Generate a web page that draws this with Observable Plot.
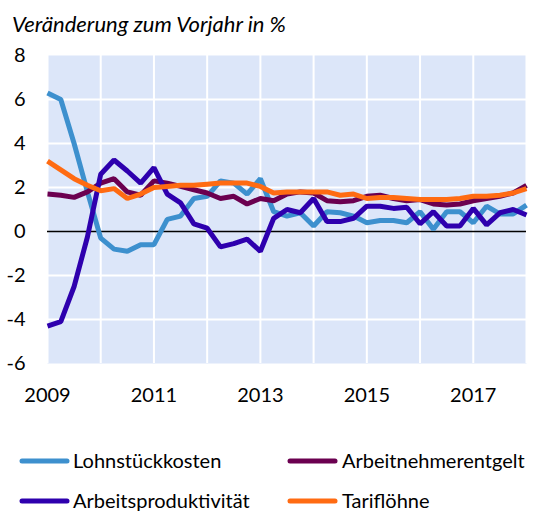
<!DOCTYPE html>
<html><head><meta charset="utf-8">
<script src="https://cdn.jsdelivr.net/npm/d3@7"></script>
<script src="https://cdn.jsdelivr.net/npm/@observablehq/plot@0.6"></script>
<style>
body{margin:0;background:#fff;font-family:Lato,"Open Sans",sans-serif;color:#000;}
#wrap{position:relative;width:557px;height:511px;overflow:hidden;}
#title{position:absolute;left:12px;top:13px;font-size:22px;line-height:22px;font-style:italic;white-space:nowrap;}
#chart{position:absolute;left:0;top:48px;}
.lg{position:absolute;font-size:20px;line-height:20px;white-space:nowrap;}
.sw{position:absolute;}
</style></head><body>
<div id="wrap">
  <div id="title">Veränderung zum Vorjahr in %</div>
  <div id="chart"></div>
  <div id="legend"></div>
</div>
<script>
// Quarterly observations, 2009 Q1 … 2018 Q1
const quarters = d3.range(37).map(i => 2009 + i / 4);

const lohnstueckkosten = [6.3, 6.0, 4.0, 1.8, -0.3, -0.8, -0.9, -0.6, -0.6, 0.55, 0.7, 1.5, 1.6, 2.3, 2.2, 1.7, 2.4, 0.9, 0.7, 0.85, 0.25, 0.9, 0.85, 0.7, 0.4, 0.5, 0.5, 0.4, 0.9, 0.1, 0.9, 0.9, 0.4, 1.15, 0.8, 0.8, 1.2];
const arbeitnehmerentgelt = [1.7, 1.65, 1.55, 1.8, 2.2, 2.4, 1.8, 1.65, 2.3, 2.2, 2.05, 1.9, 1.75, 1.5, 1.6, 1.25, 1.5, 1.4, 1.7, 1.8, 1.75, 1.4, 1.35, 1.4, 1.6, 1.65, 1.5, 1.4, 1.45, 1.25, 1.2, 1.25, 1.4, 1.5, 1.6, 1.75, 2.1];
const arbeitsproduktivitaet = [-4.3, -4.1, -2.5, -0.25, 2.6, 3.25, 2.75, 2.2, 2.9, 1.7, 1.3, 0.35, 0.15, -0.7, -0.55, -0.35, -0.9, 0.6, 1.0, 0.85, 1.5, 0.45, 0.45, 0.6, 1.15, 1.15, 1.05, 1.1, 0.35, 0.9, 0.25, 0.25, 1.05, 0.3, 0.85, 1.0, 0.75];
const tarifloehne = [3.2, 2.8, 2.4, 2.1, 1.85, 1.95, 1.5, 1.7, 2.0, 2.05, 2.1, 2.1, 2.15, 2.2, 2.2, 2.2, 2.05, 1.75, 1.8, 1.8, 1.8, 1.8, 1.65, 1.7, 1.5, 1.55, 1.55, 1.5, 1.45, 1.45, 1.45, 1.5, 1.6, 1.6, 1.65, 1.75, 1.95];

const seriesNames = ["Lohnstückkosten", "Arbeitnehmerentgelt", "Arbeitsproduktivität", "Tariflöhne"];
const seriesColors = ["#3D90CE", "#6B0050", "#2E00AE", "#FF6B12"];
const seriesValues = [lohnstueckkosten, arbeitnehmerentgelt, arbeitsproduktivitaet, tarifloehne];
const drawOrder = [0, 1, 2, 3];

const xTicks = [2009, 2011, 2013, 2015, 2017];
const xGrid = [2009, 2010, 2011, 2012, 2013, 2014, 2015, 2016, 2017, 2018];
const yTicks = [-6, -4, -2, 0, 2, 4, 6, 8];
const yGrid = [-4, -2, 2, 4, 6];

const lineMarks = drawOrder.map(k => Plot.line(
  seriesValues[k].map((v, i) => ({t: quarters[i], v, name: seriesNames[k]})),
  {x: "t", y: "v", stroke: "name", strokeWidth: 5, strokeLinejoin: "miter", strokeLinecap: "butt"}
));

const chart = Plot.plot({
  width: 557, height: 367,
  marginTop: 7, marginLeft: 47, marginRight: 31, marginBottom: 52,
  style: {fontFamily: "Lato, 'Open Sans', sans-serif", fontSize: "20px", color: "#000", background: "transparent", overflow: "visible"},
  x: {domain: [2009, 2018], ticks: xTicks, tickFormat: d => String(d), tickSize: 0, tickPadding: 24, label: null},
  y: {domain: [-6, 8], ticks: yTicks, tickFormat: d => String(d), tickSize: 0, tickPadding: 22, label: null},
  color: {domain: seriesNames, range: seriesColors},
  marks: [
    Plot.frame({fill: "#DCE6F9", stroke: null}),
    Plot.ruleX(xGrid, {stroke: "white", strokeWidth: 2}),
    Plot.ruleY(yGrid, {stroke: "white", strokeWidth: 2}),
    Plot.ruleY([0], {stroke: "black", strokeWidth: 1.6}),
    ...lineMarks
  ]
});
document.getElementById("chart").appendChild(chart);

// Legend (two rows, two columns)
const legendPos = [
  {sx: 22, tx: 73, y: 461, ty: 450},
  {sx: 290, tx: 342, y: 461, ty: 450},
  {sx: 22, tx: 73, y: 501, ty: 490},
  {sx: 290, tx: 342, y: 501, ty: 490}
];
const leg = document.getElementById("legend");
seriesNames.forEach((name, k) => {
  const p = legendPos[k];
  const sw = document.createElementNS("http://www.w3.org/2000/svg", "svg");
  sw.setAttribute("class", "sw");
  sw.setAttribute("width", 52); sw.setAttribute("height", 10);
  sw.style.left = (p.sx - 3) + "px"; sw.style.top = (p.y - 5) + "px";
  const ln = document.createElementNS("http://www.w3.org/2000/svg", "line");
  ln.setAttribute("x1", 3); ln.setAttribute("x2", 48); ln.setAttribute("y1", 5); ln.setAttribute("y2", 5);
  ln.setAttribute("stroke", seriesColors[k]); ln.setAttribute("stroke-width", 5); ln.setAttribute("stroke-linecap", "round");
  sw.appendChild(ln);
  leg.appendChild(sw);
  const t = document.createElement("div");
  t.className = "lg"; t.textContent = name;
  t.style.left = p.tx + "px"; t.style.top = p.ty + "px";
  leg.appendChild(t);
});
</script>
</body></html>
